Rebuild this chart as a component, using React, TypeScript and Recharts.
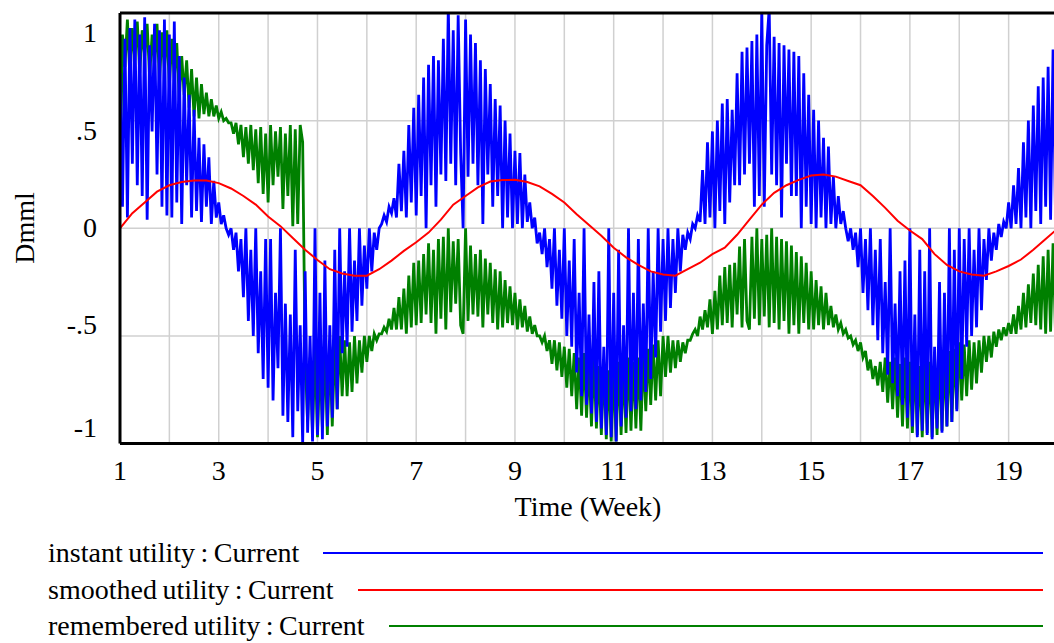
import React from 'react';
import { LineChart, Line, XAxis, YAxis, CartesianGrid, ReferenceLine } from 'recharts';

// ---------- data ----------
const START_WEEK = 1;
const STEP_WEEK = 0.05;
const SMOOTH_STEP_WEEK = 0.25;

// instant utility : Current (every 0.05 week from week 1 to 20)
const instantUtility = [
  0.72, 0.1, 0.88, 0.05, 0.93, 0.3, 0.97, 0.2, 0.9, 0.15, 0.98, 0.04, 0.85, 0.45, 0.95, 0.25, 0.92, 0.1, 0.97, 0.06,
  0.9, 0.05, 0.96, 0.12, 0.8, 0.02, 0.7, 0.2, 0.62, 0.05, 0.55, 0.08, 0.42, 0.03, 0.39, 0.1, 0.33, 0.02, 0.22, 0.05,
  0.12, 0.02, 0.06, 0.0, -0.03, 0.0, -0.1, -0.02, -0.2, -0.05, -0.32, 0.0, -0.43, -0.1, -0.5, 0.0, -0.58, -0.2, -0.7, -0.05,
  -0.74, -0.05, -0.8, -0.3, -0.65, 0.0, -0.87, -0.35, -0.9, -0.4, -0.97, -0.1, -0.85, -0.45, -1.0, -0.2, -0.95, -0.5, -0.99, 0.0,
  -0.96, -0.3, -0.98, -0.15, -0.92, -0.45, -0.88, -0.1, -0.84, 0.0, -0.58, -0.2, -0.55, 0.0, -0.48, -0.15, -0.43, 0.0, -0.36, -0.08,
  -0.28, 0.0, -0.2, -0.02, -0.1, 0.0, 0.02, 0.06, 0.03, 0.1, 0.07, 0.14, 0.05, 0.3, 0.08, 0.36, 0.05, 0.48, 0.12, 0.56,
  0.06, 0.62, 0.15, 0.7, 0.0, 0.76, 0.2, 0.8, 0.1, 0.78, 0.25, 0.88, 0.22, 1.03, 0.3, 0.92, 0.2, 0.99, 0.35, 0.0,
  0.97, 0.24, 0.9, 0.3, 0.86, 0.2, 0.78, 0.02, 0.74, 0.25, 0.67, 0.1, 0.6, 0.15, 0.57, 0.0, 0.5, 0.05, 0.44, 0.0,
  0.36, 0.02, 0.35, 0.0, 0.25, 0.03, 0.12, 0.0, 0.05, -0.07, -0.02, -0.12, 0.0, -0.18, -0.05, -0.28, 0.0, -0.36, -0.1, -0.42,
  0.0, -0.5, -0.15, -0.55, -0.05, -0.67, -0.3, -0.78, 0.0, -0.82, -0.4, -0.86, -0.25, -0.9, -0.2, -0.93, -0.55, -0.96, 0.0, -0.97,
  -0.3, -0.99, -0.1, -0.92, -0.45, -0.88, 0.0, -0.85, -0.3, -0.84, -0.05, -0.8, -0.35, -0.76, 0.0, -0.7, -0.2, -0.6, 0.0, -0.48,
  -0.05, -0.43, 0.0, -0.37, -0.05, -0.3, 0.0, -0.2, -0.03, -0.1, -0.02, -0.05, 0.02, 0.0, 0.06, 0.03, 0.27, 0.02, 0.4, 0.05,
  0.45, 0.0, 0.5, 0.08, 0.58, 0.02, 0.6, 0.12, 0.55, 0.2, 0.72, 0.2, 0.82, 0.25, 0.84, 0.3, 0.87, 0.1, 0.9, 0.15,
  1.02, 0.1, 0.85, 1.02, 0.25, 0.89, 0.2, 0.86, 0.05, 0.85, 0.3, 0.83, 0.15, 0.82, 0.15, 0.8, 0.0, 0.72, 0.1, 0.62,
  0.02, 0.55, 0.0, 0.5, 0.05, 0.42, 0.0, 0.38, 0.02, 0.24, 0.0, 0.15, 0.02, 0.08, 0.0, -0.06, 0.0, -0.1, -0.02, -0.18,
  0.0, -0.3, -0.05, -0.38, 0.0, -0.45, -0.1, -0.52, -0.05, -0.58, -0.25, -0.68, 0.0, -0.72, -0.35, -0.78, -0.2, -0.82, -0.15, -0.88,
  0.0, -0.92, -0.4, -0.97, -0.1, -0.94, -0.2, -0.96, 0.0, -0.98, -0.55, -0.93, -0.25, -0.95, -0.3, -0.92, 0.0, -0.9, -0.1, -0.85,
  0.0, -0.7, -0.05, -0.55, 0.0, -0.5, -0.1, -0.46, 0.0, -0.38, -0.05, -0.24, 0.0, -0.15, -0.02, -0.1, 0.02, -0.04, 0.03, 0.0,
  0.12, 0.0, 0.2, 0.02, 0.28, 0.0, 0.4, 0.05, 0.5, 0.0, 0.57, 0.08, 0.66, 0.02, 0.7, 0.1, 0.75, 0.04, 0.83, 0.06,
  0.85,
];

// remembered utility : Current (every 0.05 week from week 1 to 20)
const rememberedUtility = [
  0.17, 0.9, 0.75, 0.97, 0.7, 0.93, 0.78, 0.96, 0.72, 0.92, 0.8, 0.95, 0.7, 0.9, 0.76, 0.95, 0.68, 0.91, 0.74, 0.92,
  0.66, 0.88, 0.7, 0.86, 0.6, 0.8, 0.62, 0.78, 0.56, 0.74, 0.52, 0.7, 0.51, 0.67, 0.53, 0.63, 0.52, 0.6, 0.52, 0.57,
  0.51, 0.54, 0.5, 0.51, 0.49, 0.49, 0.44, 0.49, 0.39, 0.48, 0.33, 0.47, 0.3, 0.48, 0.27, 0.46, 0.21, 0.47, 0.16, 0.44,
  0.12, 0.48, 0.2, 0.45, 0.24, 0.47, 0.09, 0.44, 0.15, 0.48, 0.01, 0.46, 0.02, 0.48, 0.4, -0.6, -0.9, -0.6, -0.95, -0.55,
  -0.97, -0.6, -0.93, -0.55, -0.96, -0.55, -0.92, -0.53, -0.84, -0.5, -0.78, -0.52, -0.78, -0.53, -0.76, -0.5, -0.72, -0.52, -0.67, -0.5,
  -0.62, -0.5, -0.57, -0.49, -0.52, -0.49, -0.49, -0.46, -0.48, -0.42, -0.47, -0.37, -0.47, -0.32, -0.47, -0.28, -0.49, -0.22, -0.46, -0.16,
  -0.45, -0.15, -0.44, -0.12, -0.4, -0.07, -0.44, -0.1, -0.49, -0.05, -0.42, -0.04, -0.47, 0.0, -0.39, -0.06, -0.35, -0.05, -0.45, -0.49,
  0.0, -0.43, -0.08, -0.4, -0.12, -0.41, -0.1, -0.46, -0.14, -0.4, -0.16, -0.44, -0.19, -0.47, -0.2, -0.46, -0.24, -0.44, -0.27, -0.45,
  -0.3, -0.47, -0.33, -0.46, -0.36, -0.48, -0.41, -0.49, -0.45, -0.5, -0.5, -0.53, -0.5, -0.57, -0.52, -0.63, -0.52, -0.66, -0.53, -0.69,
  -0.55, -0.74, -0.56, -0.78, -0.58, -0.84, -0.6, -0.87, -0.58, -0.88, -0.62, -0.92, -0.6, -0.93, -0.64, -0.96, -0.62, -0.98, -0.66, -0.99,
  -0.65, -0.99, -0.62, -0.96, -0.64, -0.95, -0.6, -0.94, -0.62, -0.93, -0.6, -0.94, -0.58, -0.85, -0.56, -0.82, -0.54, -0.8, -0.52, -0.78,
  -0.5, -0.69, -0.5, -0.67, -0.52, -0.65, -0.52, -0.62, -0.53, -0.58, -0.52, -0.52, -0.49, -0.47, -0.5, -0.41, -0.47, -0.38, -0.46, -0.33,
  -0.49, -0.29, -0.47, -0.22, -0.45, -0.18, -0.44, -0.17, -0.46, -0.16, -0.4, -0.085, -0.46, -0.05, -0.43, -0.47, -0.04, -0.42, 0.0, -0.45,
  -0.05, -0.41, -0.03, -0.46, 0.0, -0.44, -0.04, -0.47, -0.05, -0.43, -0.06, -0.49, -0.08, -0.45, -0.11, -0.49, -0.13, -0.44, -0.16, -0.47,
  -0.2, -0.47, -0.24, -0.45, -0.27, -0.47, -0.3, -0.45, -0.36, -0.46, -0.4, -0.47, -0.44, -0.49, -0.47, -0.51, -0.5, -0.54, -0.52, -0.57,
  -0.53, -0.6, -0.57, -0.66, -0.61, -0.7, -0.64, -0.73, -0.62, -0.76, -0.6, -0.81, -0.62, -0.84, -0.6, -0.88, -0.63, -0.92, -0.6, -0.93,
  -0.62, -0.95, -0.6, -0.96, -0.64, -0.97, -0.6, -0.95, -0.62, -0.97, -0.6, -0.96, -0.58, -0.94, -0.6, -0.92, -0.57, -0.9, -0.56, -0.84,
  -0.53, -0.8, -0.54, -0.78, -0.52, -0.75, -0.53, -0.72, -0.52, -0.67, -0.5, -0.62, -0.5, -0.6, -0.48, -0.55, -0.47, -0.52, -0.46, -0.5,
  -0.44, -0.49, -0.4, -0.49, -0.36, -0.47, -0.3, -0.46, -0.26, -0.44, -0.21, -0.45, -0.17, -0.47, -0.13, -0.49, -0.1, -0.48, -0.07, -0.49,
  -0.05,
];

// smoothed utility : Current (every 0.25 week from week 1 to 20)
const smoothedUtility = [
  0.0, 0.07, 0.12, 0.17, 0.2, 0.215, 0.222, 0.222, 0.21, 0.185, 0.15, 0.11, 0.055, 0.01, -0.045, -0.1,
  -0.147, -0.19, -0.21, -0.22, -0.22, -0.19, -0.15, -0.105, -0.065, -0.02, 0.04, 0.11, 0.15, 0.19, 0.217, 0.224,
  0.225, 0.215, 0.195, 0.16, 0.12, 0.065, 0.015, -0.035, -0.09, -0.135, -0.17, -0.2, -0.215, -0.22, -0.19, -0.16,
  -0.12, -0.09, -0.03, 0.04, 0.11, 0.165, 0.2, 0.225, 0.245, 0.25, 0.24, 0.22, 0.2, 0.15, 0.095, 0.035,
  -0.01, -0.05, -0.12, -0.17, -0.2, -0.215, -0.22, -0.2, -0.175, -0.145, -0.1, -0.05, 0.0,
];

const weekTicks = [1, 2, 3, 4, 5, 6, 7, 8, 9, 10, 11, 12, 13, 14, 15, 16, 17, 18, 19, 20];
const weekLabels = [1, 3, 5, 7, 9, 11, 13, 15, 17, 19];
const dmmlTicks = [-1, -0.5, 0, 0.5, 1];
const dmmlTickLabels = ['-1', '-.5', '0', '.5', '1'];

const seriesNames = ['instant utility : Current', 'smoothed utility : Current', 'remembered utility : Current'];
const seriesColors = ['#0000ff', '#ff0000', '#008000'];

const xTitle = 'Time (Week)';
const yTitle = 'Dmml';

// ---------- helpers ----------
const toRows = (values: number[], step: number, key: string) =>
  values.map((v, i) => ({ t: Math.round((START_WEEK + i * step) * 1000) / 1000, [key]: v }));

const instantRows = toRows(instantUtility, STEP_WEEK, 'instant');
const rememberedRows = toRows(rememberedUtility, STEP_WEEK, 'remembered');
const smoothedRows = toRows(smoothedUtility, SMOOTH_STEP_WEEK, 'smoothed');

const FONT = '"Liberation Serif", "Times New Roman", serif';
const TICK_FONT_SIZE = 28;

// vertical label offsets (Vensim insets the outer labels)
const Y_LABEL_SHIFT = [-16.5, -11, -1, 9.5, 19];

function XTick(props: any) {
  const { x, y, payload } = props;
  if (!weekLabels.includes(payload.value)) return <g />;
  return (
    <text x={x} y={y} dy={28} textAnchor="middle" fontSize={TICK_FONT_SIZE} fontFamily={FONT} fill="#000">
      {payload.value}
    </text>
  );
}

function YTick(props: any) {
  const { x, y, payload } = props;
  const idx = dmmlTicks.indexOf(payload.value);
  if (idx < 0) return <g />;
  return (
    <text x={x - 15} y={y + Y_LABEL_SHIFT[idx]} dy={9.5} textAnchor="end" fontSize={TICK_FONT_SIZE} fontFamily={FONT} fill="#000">
      {dmmlTickLabels[idx]}
    </text>
  );
}

export default function App() {
  return (
    <div
      style={{
        position: 'absolute',
        left: 0,
        top: 0,
        width: 1054,
        height: 643,
        overflow: 'hidden',
        background: '#fff',
        fontFamily: FONT,
      }}
    >
      <LineChart width={1070} height={520} margin={{ top: 13, right: 12, bottom: 0, left: 0 }}>
        <CartesianGrid stroke="#d0d0d0" strokeWidth={1.5} />
        <XAxis
          type="number"
          dataKey="t"
          domain={[1, 20]}
          ticks={weekTicks}
          interval={0}
          allowDataOverflow
          tickLine={false}
          axisLine={{ stroke: '#000', strokeWidth: 3 }}
          tick={<XTick />}
          height={76.4}
        />
        <YAxis
          type="number"
          domain={[-1, 1]}
          ticks={dmmlTicks}
          interval={0}
          allowDataOverflow
          tickLine={false}
          axisLine={{ stroke: '#000', strokeWidth: 3 }}
          tick={<YTick />}
          width={120}
        />
        <Line data={rememberedRows} dataKey="remembered" type="linear" stroke={seriesColors[2]} strokeWidth={2.8} dot={false} isAnimationActive={false} />
        <Line data={instantRows} dataKey="instant" type="linear" stroke={seriesColors[0]} strokeWidth={2.8} dot={false} isAnimationActive={false} />
        <Line data={smoothedRows} dataKey="smoothed" type="linear" stroke={seriesColors[1]} strokeWidth={2} dot={false} isAnimationActive={false} />
        <ReferenceLine y={1} stroke="#000" strokeWidth={3} />
      </LineChart>

      <svg width={1054} height={643} style={{ position: 'absolute', left: 0, top: 0, pointerEvents: 'none' }}>
        <text x={588} y={516} textAnchor="middle" fontSize={28} fontFamily={FONT} fill="#000">
          {xTitle}
        </text>
        <text
          x={0}
          y={0}
          transform="translate(34,228) rotate(-90)"
          textAnchor="middle"
          fontSize={28}
          fontFamily={FONT}
          fill="#000"
        >
          {yTitle}
        </text>
      </svg>

      <div style={{ position: 'absolute', left: 48, top: 535, width: 995 }}>
        {seriesNames.map((name, i) => (
          <div key={name} style={{ display: 'flex', alignItems: 'center', height: 36.5 }}>
            <span style={{ fontSize: 28, wordSpacing: -1.5, whiteSpace: 'nowrap', lineHeight: '36.5px', color: '#000' }}>{name}</span>
            <div style={{ flex: 1, marginLeft: 24, height: 2, background: seriesColors[i] }} />
          </div>
        ))}
      </div>
    </div>
  );
}
